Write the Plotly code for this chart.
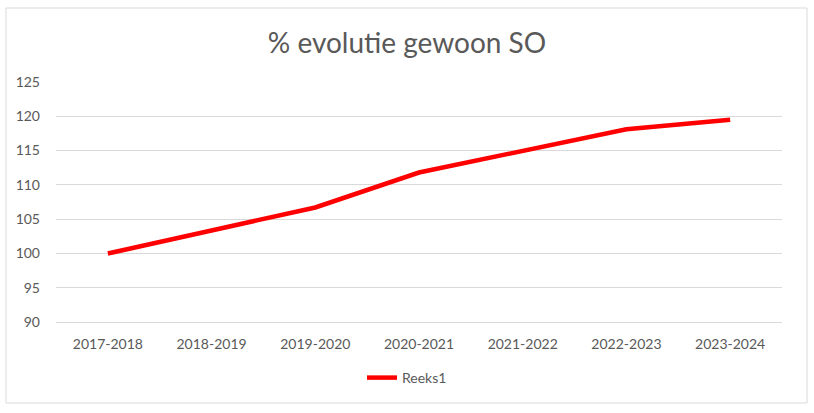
import plotly.graph_objects as go

categories = ["2017-2018", "2018-2019", "2019-2020", "2020-2021", "2021-2022", "2022-2023", "2023-2024"]
values = [100.0, 103.4, 106.7, 111.8, 115.0, 118.1, 119.5]
series_name = "Reeks1"
title_text = "% evolutie gewoon SO"
y_ticks = [90, 95, 100, 105, 110, 115, 120, 125]

W, H = 814, 413
ml, mr, mt, mb = 56, 32, 82, 91
pw, ph = W - ml - mr, H - mt - mb

FONT = "Lato, Open Sans, sans-serif"

fig = go.Figure()
fig.add_trace(go.Scatter(
    x=categories, y=values, mode="lines", name=series_name,
    line=dict(color="#ff0000", width=4.5),
))

def px_to_paper_x(px):
    return (px - ml) / pw

def px_to_paper_y(py):
    return 1 - (py - mt) / ph

fig.add_shape(type="rect", xref="paper", yref="paper",
              x0=px_to_paper_x(6), x1=px_to_paper_x(807),
              y0=px_to_paper_y(403), y1=px_to_paper_y(8),
              line=dict(color="#d9d9d9", width=1), fillcolor="rgba(0,0,0,0)", layer="below")

fig.update_layout(
    width=W, height=H,
    margin=dict(l=ml, r=mr, t=mt, b=mb, autoexpand=False),
    paper_bgcolor="white", plot_bgcolor="white",
    font=dict(family=FONT, color="#595959", size=14),
    title=dict(text=title_text, x=0.5, xanchor="center", xref="container",
               y=1 - 43 / H, yanchor="middle", yref="container",
               font=dict(size=28, color="#595959", family=FONT)),
    showlegend=True,
    legend=dict(orientation="h", x=0.5, xanchor="center", xref="container",
                y=1 - 378 / H, yanchor="middle", yref="container",
                font=dict(size=14, color="#595959"), bgcolor="rgba(0,0,0,0)"),
    xaxis=dict(type="category", range=[-0.5, 6.5], showgrid=False, showline=True,
               linecolor="#d9d9d9", linewidth=1, zeroline=False, automargin=False,
               ticks="", ticklabelstandoff=9, tickfont=dict(size=14, color="#595959")),
    yaxis=dict(range=[90, 125], tickvals=y_ticks, showgrid=True, gridcolor="#d9d9d9",
               gridwidth=1, zeroline=False, showline=False, ticks="", ticklabelstandoff=15,
               automargin=False, tickfont=dict(size=14, color="#595959")),
)

fig.write_html("out.html", config={"displayModeBar": False},
               post_script="document.body.style.margin='0';document.body.style.overflow='hidden';")
